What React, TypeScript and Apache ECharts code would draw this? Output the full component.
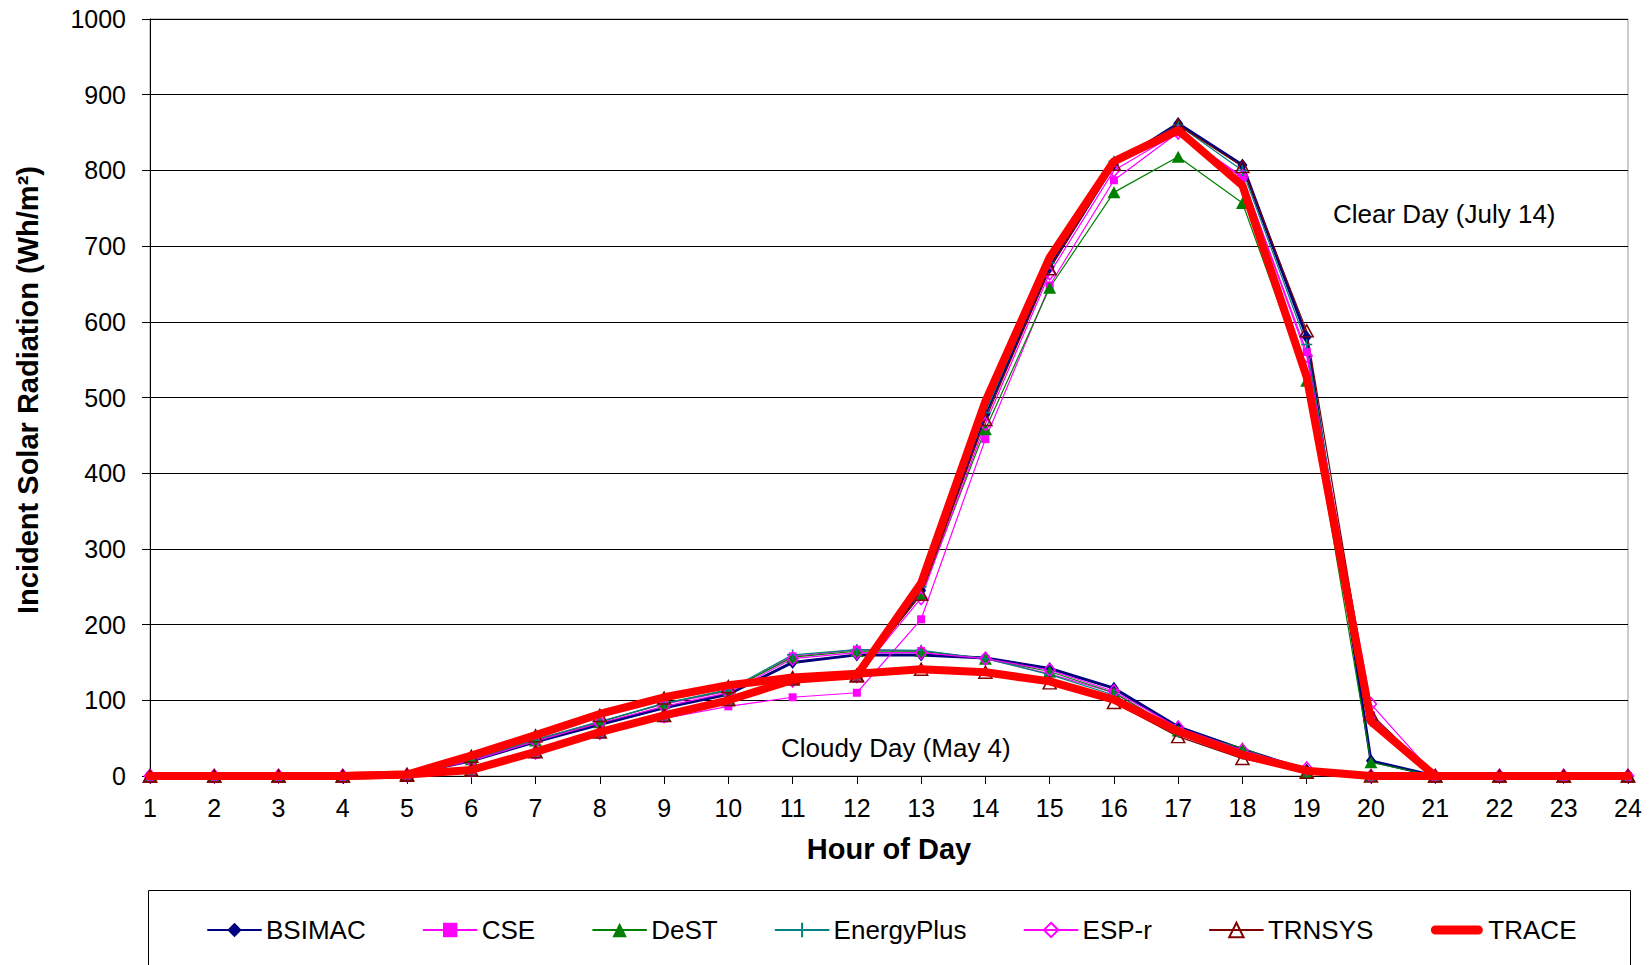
import React, { useEffect, useRef } from "react";
import * as echarts from "echarts";

const hours = [1, 2, 3, 4, 5, 6, 7, 8, 9, 10, 11, 12, 13, 14, 15, 16, 17, 18, 19, 20, 21, 22, 23, 24];

const modelNames = ["BSIMAC", "CSE", "DeST", "EnergyPlus", "ESP-r", "TRNSYS", "TRACE"];

// Clear Day (July 14)
const bsimacClear = [0, 0, 0, 0, 1, 8, 32, 58, 80, 101, 128, 134, 245, 478, 672, 808, 862, 807, 580, 20, 0, 0, 0, 0];
const cseClear = [0, 0, 0, 0, 0, 5, 28, 55, 76, 92, 104, 110, 207, 445, 648, 787, 850, 790, 560, 80, 0, 0, 0, 0];
const destClear = [0, 0, 0, 0, 1, 8, 33, 58, 80, 100, 128, 134, 240, 458, 645, 771, 818, 757, 522, 18, 0, 0, 0, 0];
const energyPlusClear = [0, 0, 0, 0, 1, 8, 32, 58, 80, 101, 127, 133, 250, 480, 678, 812, 860, 800, 570, 72, 0, 0, 0, 0];
const esprClear = [0, 0, 0, 0, 1, 7, 31, 57, 79, 100, 126, 132, 235, 465, 664, 800, 850, 792, 555, 95, 0, 0, 0, 0];
const trnsysClear = [0, 0, 0, 0, 1, 8, 32, 58, 80, 101, 128, 133, 240, 471, 670, 808, 860, 805, 588, 82, 0, 0, 0, 0];
const traceClear = [0, 0, 0, 0, 2, 8, 32, 58, 80, 100, 127, 133, 255, 495, 685, 812, 853, 780, 527, 72, 0, 0, 0, 0];

// Cloudy Day (May 4)
const bsimacCloudy = [0, 0, 0, 0, 2, 20, 45, 68, 90, 108, 150, 160, 160, 156, 142, 116, 65, 35, 8, 0, 0, 0, 0, 0];
const cseCloudy = [0, 0, 0, 0, 1, 22, 48, 72, 95, 112, 158, 167, 165, 155, 135, 110, 60, 30, 5, 0, 0, 0, 0, 0];
const destCloudy = [0, 0, 0, 0, 1, 22, 47, 71, 96, 113, 157, 165, 165, 155, 138, 110, 60, 37, 5, 0, 0, 0, 0, 0];
const energyPlusCloudy = [0, 0, 0, 0, 1, 22, 48, 72, 96, 114, 160, 167, 166, 155, 134, 107, 58, 29, 5, 0, 0, 0, 0, 0];
const esprCloudy = [0, 0, 0, 0, 1, 20, 46, 70, 92, 110, 155, 163, 163, 155, 140, 112, 64, 34, 10, 0, 0, 0, 0, 0];
const trnsysCloudy = [0, 0, 0, 0, 2, 26, 53, 80, 103, 118, 130, 132, 141, 137, 123, 97, 52, 23, 5, 0, 0, 0, 0, 0];
const traceCloudy = [0, 0, 0, 0, 2, 27, 54, 82, 104, 120, 130, 135, 141, 137, 125, 101, 59, 28, 7, 0, 0, 0, 0, 0];

const FONT = "'Liberation Sans', Arial, Helvetica, sans-serif";
const PLUS = "path://M4.3,0H5.7V4.3H10V5.7H5.7V10H4.3V5.7H0V4.3H4.3Z";
// thick rounded bar for the TRACE legend key (corner points keep the icon box full size)
const TRACE_ICON =
  "path://M0,0L0.01,0L0,0.01Z M53,18L52.99,18L53,17.99Z M5,4.5H48A4.5,4.5 0 0 1 48,13.5H5A4.5,4.5 0 0 1 5,4.5Z";

type Style = {
  color: string;
  width: number;
  symbol: string;
  symbolSize: number | number[];
  fill: string;
  border: number;
  z: number;
};

const styles: Record<string, Style> = {
  BSIMAC: { color: "#000080", width: 3, symbol: "diamond", symbolSize: [10, 13], fill: "#000080", border: 0, z: 2 },
  CSE: { color: "#FF00FF", width: 1.2, symbol: "rect", symbolSize: 8, fill: "#FF00FF", border: 0, z: 2 },
  DeST: { color: "#008000", width: 1.2, symbol: "triangle", symbolSize: [13, 12], fill: "#008000", border: 0, z: 2 },
  EnergyPlus: { color: "#008080", width: 1.2, symbol: PLUS, symbolSize: 11, fill: "#008080", border: 0, z: 2 },
  "ESP-r": { color: "#FF00FF", width: 1.2, symbol: "diamond", symbolSize: [11, 13], fill: "rgba(0,0,0,0)", border: 1.5, z: 2 },
  TRNSYS: { color: "#800000", width: 1.2, symbol: "triangle", symbolSize: [13, 12], fill: "rgba(0,0,0,0)", border: 1.5, z: 2 },
  TRACE: { color: "#FF0000", width: 8, symbol: "none", symbolSize: 0, fill: "#FF0000", border: 0, z: 3 },
};

const clearData: Record<string, number[]> = {
  BSIMAC: bsimacClear,
  CSE: cseClear,
  DeST: destClear,
  EnergyPlus: energyPlusClear,
  "ESP-r": esprClear,
  TRNSYS: trnsysClear,
  TRACE: traceClear,
};

const cloudyData: Record<string, number[]> = {
  BSIMAC: bsimacCloudy,
  CSE: cseCloudy,
  DeST: destCloudy,
  EnergyPlus: energyPlusCloudy,
  "ESP-r": esprCloudy,
  TRNSYS: trnsysCloudy,
  TRACE: traceCloudy,
};

function makeSeries(name: string, values: number[]) {
  const s = styles[name];
  return {
    type: "line",
    name,
    data: hours.map((h, i) => [h, values[i]]),
    z: s.z,
    symbol: s.symbol,
    symbolSize: s.symbolSize,
    showSymbol: s.symbol !== "none",
    lineStyle: { color: s.color, width: s.width, join: "round", cap: "round" },
    itemStyle: {
      color: s.fill,
      borderColor: s.color,
      borderWidth: s.border,
    },
    emphasis: { disabled: true },
  };
}

export default function App() {
  const ref = useRef<HTMLDivElement>(null);

  useEffect(() => {
    if (!ref.current) return;
    const chart = echarts.init(ref.current, undefined, { renderer: "svg" });
    const series: any[] = [];
    modelNames.forEach((n) => {
      series.push(makeSeries(n, clearData[n]));
      series.push(makeSeries(n, cloudyData[n]));
    });

    const legendData = modelNames.map((n) =>
      n === "TRACE" ? { name: n, icon: TRACE_ICON, itemStyle: { color: "#FF0000", borderWidth: 0 } } : { name: n }
    );

    chart.setOption({
      animation: false,
      backgroundColor: "#ffffff",
      textStyle: { fontFamily: FONT },
      grid: {
        left: 150,
        right: 23,
        top: 19,
        bottom: 189,
        show: true,
        borderColor: "#999999",
        borderWidth: 1,
      },
      xAxis: {
        type: "value",
        min: 1,
        max: 24,
        interval: 1,
        name: "Hour of Day",
        nameLocation: "middle",
        nameGap: 58,
        nameTextStyle: { fontSize: 29, fontWeight: "bold", color: "#000", fontFamily: FONT },
        axisLine: { show: true, lineStyle: { color: "#000", width: 1 } },
        axisTick: { show: true, length: 8, lineStyle: { color: "#000" } },
        axisLabel: { fontSize: 25, color: "#000", margin: 19, fontFamily: FONT },
        splitLine: { show: false },
      },
      yAxis: {
        type: "value",
        min: 0,
        max: 1000,
        interval: 100,
        axisLine: { show: true, lineStyle: { color: "#000", width: 1 } },
        axisTick: { show: true, length: 8, lineStyle: { color: "#000" } },
        axisLabel: {
          fontSize: 25,
          color: "#000",
          margin: 24,
          fontFamily: FONT,
          formatter: (v: number) => String(v),
        },
        splitLine: { show: true, lineStyle: { color: "#000", width: 1 } },
      },
      legend: {
        data: legendData,
        left: 207,
        top: 917,
        padding: 0,
        itemWidth: 53,
        itemHeight: 18,
        itemGap: 57,
        textStyle: { fontSize: 26, color: "#000", fontFamily: FONT },
        selectedMode: false,
      },
      graphic: [
        {
          type: "rect",
          silent: true,
          shape: { x: 148.5, y: 890.5, width: 1482, height: 120 },
          style: { fill: "none", stroke: "#000", lineWidth: 1 },
        },
        {
          type: "text",
          silent: true,
          x: 28,
          y: 390,
          rotation: Math.PI / 2,
          style: {
            text: "Incident Solar Radiation (Wh/m²)",
            font: `bold 29px ${FONT}`,
            fill: "#000",
            align: "center",
            verticalAlign: "middle",
          },
        },
        {
          type: "text",
          silent: true,
          x: 1333,
          y: 214,
          style: {
            text: "Clear Day (July 14)",
            font: `26px ${FONT}`,
            fill: "#000",
            verticalAlign: "middle",
          },
        },
        {
          type: "text",
          silent: true,
          x: 781,
          y: 748,
          style: {
            text: "Cloudy Day (May 4)",
            font: `26px ${FONT}`,
            fill: "#000",
            verticalAlign: "middle",
          },
        },
      ],
      series,
    });

    return () => chart.dispose();
  }, []);

  return (
    <div
      ref={ref}
      style={{ position: "fixed", left: 0, top: 0, width: 1651, height: 965, background: "#fff" }}
    />
  );
}
